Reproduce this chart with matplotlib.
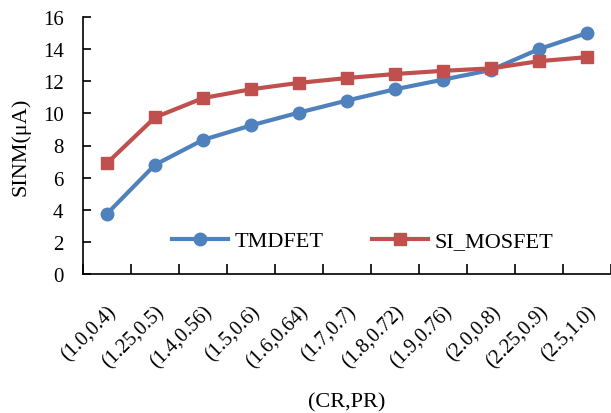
import matplotlib
matplotlib.use("Agg")
import matplotlib.pyplot as plt
import numpy as np

categories = ["(1.0,0.4)", "(1.25,0.5)", "(1.4,0.56)", "(1.5,0.6)", "(1.6,0.64)",
              "(1.7,0.7)", "(1.8,0.72)", "(1.9,0.76)", "(2.0,0.8)", "(2.25,0.9)", "(2.5,1.0)"]
tmdfet = [3.75, 6.8, 8.35, 9.25, 10.05, 10.8, 11.5, 12.1, 12.7, 14.0, 15.0]
si_mosfet = [6.9, 9.75, 10.95, 11.5, 11.9, 12.2, 12.45, 12.65, 12.8, 13.25, 13.5]

plt.rcParams['font.family'] = ['Liberation Serif', 'DejaVu Serif']

fig = plt.figure(figsize=(6.11, 4.14), dpi=100)
ax = fig.add_axes([83/611, 1 - 275/414, 528/611, 257/414])

x = np.arange(len(categories))
ax.plot(x, tmdfet, color="#4F81BD", lw=3, marker="o", ms=9, label="TMDFET")
ax.plot(x, si_mosfet, color="#C0504D", lw=3, marker="s", ms=9, label="SI_MOSFET")

ax.set_xlim(-0.5, len(categories) - 0.5)
ax.set_ylim(0, 16)
ax.set_yticks(range(0, 17, 2))
ax.set_xticks(np.arange(-0.5, len(categories), 1.0))
ax.set_xticklabels([])
ax.set_xticks(x, minor=True)
ax.set_xticklabels(categories, minor=True, rotation=45, ha="right",
                   rotation_mode="anchor", fontsize=14.5)
ax.tick_params(axis="x", which="major", direction="in", length=7, width=1.2)
ax.tick_params(axis="x", which="minor", length=0, pad=20)
ax.tick_params(axis="y", direction="in", length=6, width=1.2, labelsize=15, pad=14)

for s in ["top", "right"]:
    ax.spines[s].set_visible(False)
for s in ["left", "bottom"]:
    ax.spines[s].set_linewidth(1.2)

ax.set_ylabel("SINM(μA)", fontsize=16, labelpad=9)
ax.set_xlabel("(CR,PR)", fontsize=16, labelpad=15)

ax.legend(loc="lower center", bbox_to_anchor=(0.53, 0.01), ncol=2, frameon=False,
          fontsize=16, handlelength=2.5, columnspacing=2.2, handletextpad=0.3)

fig.savefig("out.png", dpi=100)
